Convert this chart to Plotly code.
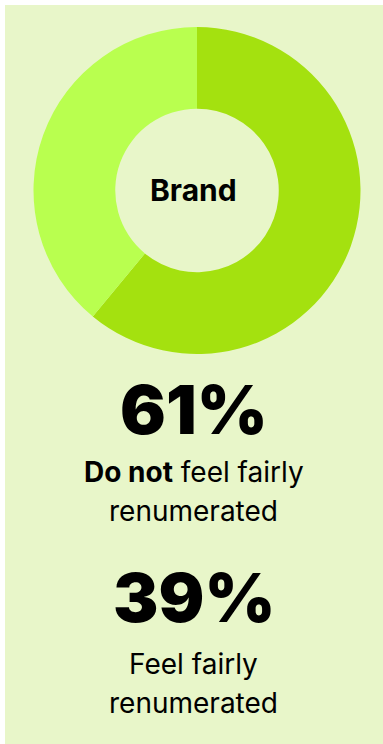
import plotly.graph_objects as go

# Survey result: share of respondents by how fairly they feel paid
categories = ["Do not feel fairly renumerated", "Feel fairly renumerated"]
shares = [61, 39]
slice_colors = ["#a4e10f", "#b9ff4f"]
centre_label = "Brand"

W, H = 383, 744
PANEL = "#e8f6c9"
FONT = "Inter"


def px_x(x):
    return x / W


def px_y(y):
    return 1 - y / H


fig = go.Figure(
    go.Pie(
        labels=categories,
        values=shares,
        hole=0.5,
        sort=False,
        direction="clockwise",
        rotation=0,
        marker=dict(colors=slice_colors, line=dict(width=0)),
        textinfo="none",
        hoverinfo="label+percent",
        showlegend=False,
        domain=dict(x=[px_x(33.5), px_x(360.5)], y=[px_y(354), px_y(27)]),
    )
)

ann = []


def text(y, s, size, weight=400):
    ann.append(
        dict(
            x=0.5 + 2 / W, y=px_y(y), xref="paper", yref="paper",
            text=s, showarrow=False, xanchor="center", yanchor="middle",
            font=dict(family=FONT, size=size, color="#000000", weight=weight),
        )
    )


text(190, centre_label, 30, 700)

text(409, f"{shares[0]}%", 68, 900)
text(472, "<b>Do not</b> feel fairly", 28)
text(511, "renumerated", 28)

text(597, f"{shares[1]}%", 68, 900)
text(664, "Feel fairly", 28)
text(703, "renumerated", 28)

fig.update_layout(
    width=W, height=H,
    margin=dict(l=0, r=0, t=0, b=0),
    paper_bgcolor="#ffffff",
    plot_bgcolor="#ffffff",
    annotations=ann,
    shapes=[
        dict(
            type="rect", xref="paper", yref="paper",
            x0=px_x(5), x1=1, y0=0, y1=px_y(5),
            fillcolor=PANEL, line=dict(width=0), layer="below",
        )
    ],
)

fig.write_html("out.html", config={"displayModeBar": False})
